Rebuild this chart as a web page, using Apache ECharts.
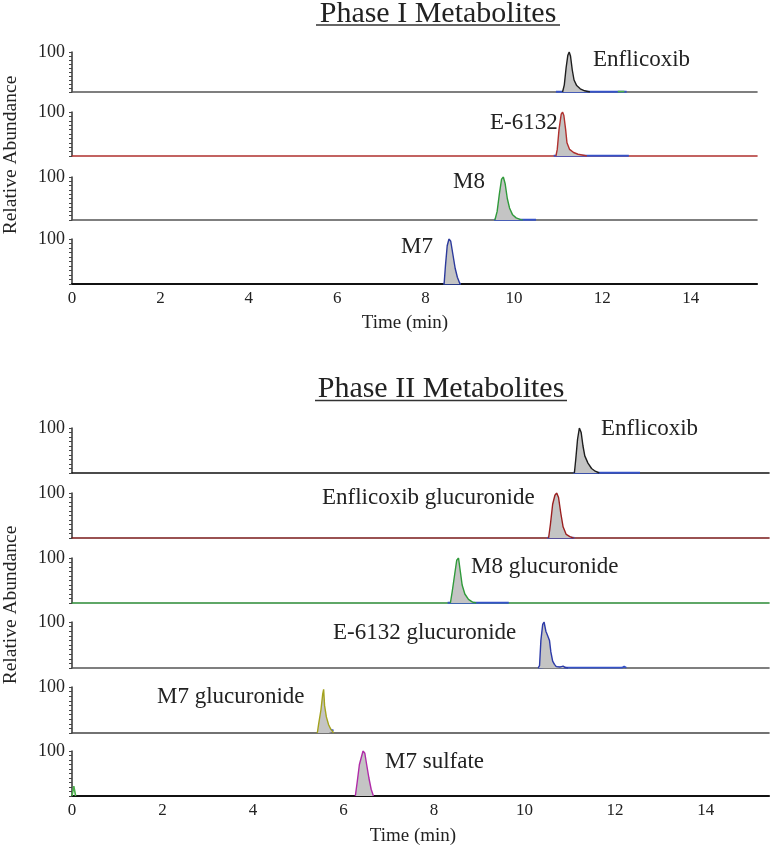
<!DOCTYPE html>
<html>
<head>
<meta charset="utf-8">
<script src="https://cdn.jsdelivr.net/npm/echarts@6/dist/echarts.min.js"></script>
<style>
html,body{margin:0;padding:0;background:#fff;}
#chart{width:772px;height:846px;}
</style>
</head>
<body>
<div id="chart"></div>
<script>
// ---------------- DATA ----------------
const xTicks = [0, 2, 4, 6, 8, 10, 12, 14];
const phase1Max = 15.5;
const phase2Max = 15.4;
const yMax = 100;

const phase1Title = 'Phase I Metabolites';
const phase2Title = 'Phase II Metabolites';
const xAxisTitle = 'Time (min)';
const yAxisTitle = 'Relative Abundance';

const phase1Names = ['Enflicoxib', 'E-6132', 'M8', 'M7'];
const phase2Names = ['Enflicoxib', 'Enflicoxib glucuronide', 'M8 glucuronide', 'E-6132 glucuronide', 'M7 glucuronide', 'M7 sulfate'];

// main traces [time (min), relative abundance]
const p1Enflicoxib = [[11.1,0],[11.14,18],[11.18,60],[11.22,92],[11.25,100],[11.28,90],[11.32,55],[11.36,30],[11.42,16],[11.5,8],[11.6,3],[11.72,0]];
const p1E6132 = [[10.95,0],[10.98,15],[11.02,60],[11.07,95],[11.1,100],[11.13,92],[11.17,60],[11.2,30],[11.26,15],[11.35,8],[11.45,4],[11.6,1],[11.65,0]];
const p1M8 = [[9.57,0],[9.62,20],[9.67,60],[9.72,95],[9.76,100],[9.8,85],[9.85,50],[9.9,28],[9.97,12],[10.05,5],[10.15,1],[10.2,0]];
const p1M7 = [[8.42,0],[8.45,40],[8.49,85],[8.53,100],[8.57,95],[8.62,65],[8.67,35],[8.72,15],[8.78,0]];

const p2Enflicoxib = [[11.1,0],[11.13,30],[11.17,75],[11.21,100],[11.25,90],[11.29,60],[11.33,38],[11.4,22],[11.48,10],[11.56,4],[11.65,0]];
const p2EnflicoxibGluc = [[10.53,0],[10.57,30],[10.62,75],[10.67,95],[10.71,100],[10.75,90],[10.8,55],[10.85,25],[10.92,8],[11.0,3],[11.08,0]];
const p2M8Gluc = [[8.36,0],[8.4,25],[8.45,60],[8.5,95],[8.54,100],[8.58,70],[8.62,40],[8.68,20],[8.76,8],[8.85,2],[8.93,0]];
const p2E6132Gluc = [[10.3,0],[10.33,5],[10.36,60],[10.4,95],[10.43,100],[10.47,80],[10.51,70],[10.55,60],[10.58,35],[10.62,15],[10.66,8],[10.7,3],[10.74,6],[10.78,2],[10.85,4],[10.9,1],[10.96,0]];
const p2M7Gluc = [[5.42,0],[5.45,20],[5.5,50],[5.54,85],[5.56,95],[5.58,60],[5.62,35],[5.67,18],[5.72,8],[5.76,3],[5.78,0]];
const p2M7Sulf = [[6.26,0],[6.3,30],[6.35,70],[6.39,85],[6.43,100],[6.47,95],[6.51,70],[6.56,40],[6.61,15],[6.66,0]];

// secondary (blue / green) traces along the baseline
const p1Blue = [
  [[10.95,0.6],[12.55,0.6]],
  [[10.9,0.6],[12.6,0.6]],
  [[9.55,0.6],[10.5,0.6]],
  [[8.4,0.6],[8.8,0.6]]
];
const p1Green = [[[12.35,1],[12.5,1]], [], [], []];
const p2Blue = [
  [[11.08,0.6],[12.55,0.6]],
  [[10.5,0.6],[11.1,0.6]],
  [[8.3,0.6],[9.65,0.6]],
  [[10.3,1],[10.6,3],[10.9,1],[12.15,0.6],[12.2,3],[12.25,0.6]],
  [[5.42,4],[5.5,7],[5.6,5],[5.7,8],[5.78,5]],
  []
];
const p2Green = [[], [], [], [], [], [[0.0,0],[0.04,22],[0.08,0]]];

// ---------------- STYLE / LAYOUT ----------------
const FONT = '"Liberation Serif","Times New Roman",serif';
const TXT = '#222';
const p1Colors = ['#1e1e1e', '#b0302e', '#2f9a3a', '#2c3a9c'];
const p2Colors = ['#1e1e1e', '#9a1f1f', '#2f9a3a', '#2c3aa8', '#a3a21e', '#b02aa8'];
const p1Axis = ['#555', '#b0302e', '#555', '#111'];
const p2Axis = ['#111', '#7a1a1a', '#2b8a36', '#555', '#444', '#111'];
const p1Tops = [52, 112, 177, 239], p1Bottoms = [92, 156, 220, 284];
const p2Tops = [428, 493, 558, 622, 687, 751], p2Bottoms = [473, 538, 603, 668, 733, 796];
const p1Lbl = [[593,60],[490,123],[453,182],[401,247]];
const p2Lbl = [[601,429],[322,498],[471,567],[333,633],[157,697],[385,762]];

const p1Traces = [p1Enflicoxib, p1E6132, p1M8, p1M7];
const p2Traces = [p2Enflicoxib, p2EnflicoxibGluc, p2M8Gluc, p2E6132Gluc, p2M7Gluc, p2M7Sulf];

const grids = [], xAxes = [], yAxes = [], series = [], graphics = [];

function addPanel(tops, bottoms, left, width, xmax, traces, colors, axisColors, blues, greens) {
  tops.forEach((top, i) => {
    const idx = grids.length;
    const last = i === tops.length - 1;
    grids.push({left: left, width: width, top: top, height: bottoms[i] - top});
    xAxes.push({
      gridIndex: idx, type: 'value', min: 0, max: xmax, interval: 2,
      axisLine: {show: true, lineStyle: {color: axisColors[i], width: last ? 2.2 : 1.6}},
      axisTick: {show: false}, splitLine: {show: false},
      axisLabel: {show: last, showMaxLabel: false, fontFamily: FONT, fontSize: 17, color: TXT, margin: 6,
        formatter: v => xTicks.indexOf(v) >= 0 ? String(v) : ''}
    });
    yAxes.push({
      gridIndex: idx, type: 'value', min: 0, max: yMax, interval: 10,
      axisLine: {show: true, lineStyle: {color: '#333', width: 1.5}},
      axisTick: {show: true, length: 3, lineStyle: {color: '#444', width: 1}},
      splitLine: {show: false},
      axisLabel: {fontFamily: FONT, fontSize: 18, color: TXT, margin: 7,
        formatter: v => v === yMax ? String(yMax) : ''}
    });
    (blues[i] || []).length && series.push({
      type: 'line', xAxisIndex: idx, yAxisIndex: idx, data: blues[i], showSymbol: false, silent: true,
      lineStyle: {color: '#3552c8', width: 1.8}, z: 3
    });
    (greens[i] || []).length && series.push({
      type: 'line', xAxisIndex: idx, yAxisIndex: idx, data: greens[i], showSymbol: false, silent: true,
      lineStyle: {color: '#4bb04b', width: 1.6}, z: 3
    });
    series.push({
      type: 'line', xAxisIndex: idx, yAxisIndex: idx, data: traces[i], showSymbol: false, silent: true,
      lineStyle: {color: colors[i], width: 1.4},
      areaStyle: {color: '#c4c4c4', opacity: 1}, z: 4
    });
  });
}

addPanel(p1Tops, p1Bottoms, 72, 685, phase1Max, p1Traces, p1Colors, p1Axis, p1Blue, p1Green);
addPanel(p2Tops, p2Bottoms, 72, 697, phase2Max, p2Traces, p2Colors, p2Axis, p2Blue, p2Green);

function txt(x, y, s, size, align, rot) {
  const g = {type: 'text', x: x, y: y, silent: true, z: 10,
    style: {text: s, fontFamily: FONT, fontSize: size, fill: TXT, textAlign: align || 'left', textVerticalAlign: 'middle'}};
  if (rot) g.rotation = rot;
  return g;
}
phase1Names.forEach((n, i) => graphics.push(txt(p1Lbl[i][0], p1Lbl[i][1], n, 23)));
phase2Names.forEach((n, i) => graphics.push(txt(p2Lbl[i][0], p2Lbl[i][1], n, 23)));

// titles with underline
graphics.push(txt(438, 14, phase1Title, 30, 'center'));
graphics.push({type: 'line', silent: true, shape: {x1: 316, y1: 25, x2: 560, y2: 25}, style: {stroke: '#333', lineWidth: 1.5}});
graphics.push(txt(441, 389, phase2Title, 30, 'center'));
graphics.push({type: 'line', silent: true, shape: {x1: 315, y1: 400.5, x2: 567, y2: 400.5}, style: {stroke: '#333', lineWidth: 1.5}});

// x-axis titles
graphics.push(txt(405, 323, xAxisTitle, 19, 'center'));
graphics.push(txt(413, 836, xAxisTitle, 19, 'center'));

// vertical y titles
graphics.push(txt(11, 155, yAxisTitle, 19.5, 'center', Math.PI / 2));
graphics.push(txt(11, 605, yAxisTitle, 19.5, 'center', Math.PI / 2));

const chart = echarts.init(document.getElementById('chart'), null, {renderer: 'canvas'});
chart.setOption({
  animation: false,
  backgroundColor: '#fff',
  grid: grids, xAxis: xAxes, yAxis: yAxes, series: series, graphic: graphics
});
</script>
</body>
</html>
